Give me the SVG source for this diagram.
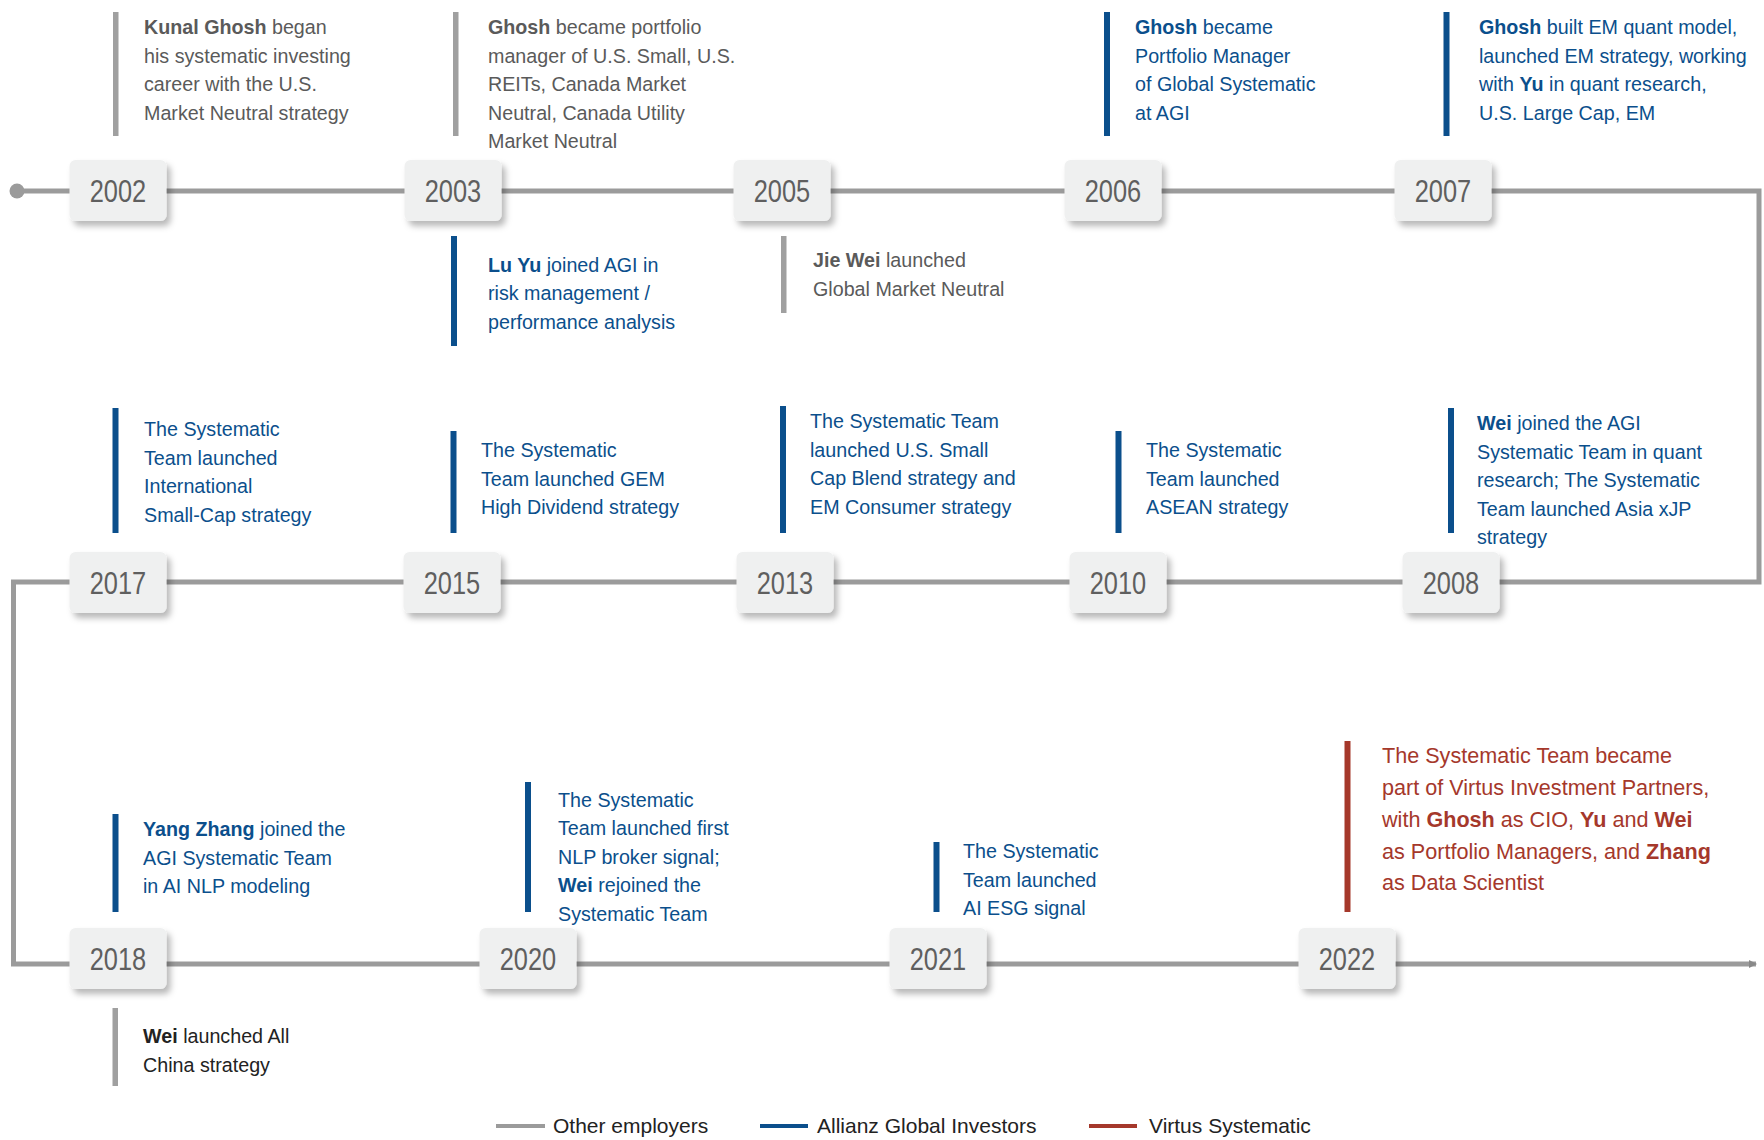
<svg xmlns="http://www.w3.org/2000/svg" width="1764" height="1140" viewBox="0 0 1764 1140">
<style>
.t{font-family:"Liberation Sans",Arial,sans-serif;font-size:19.7px}
.b{font-weight:bold}
.g{fill:#5a5a5a}
.bl{fill:#0b4f8c}
.rd{fill:#a5382b;font-size:21.6px}
.dk{fill:#222}
.yr{font-family:"Liberation Sans",Arial,sans-serif;font-size:31px;fill:#5f5f5f;text-anchor:middle}
.box{fill:#eff0f0;filter:url(#sh)}
.gbar{fill:#a0a0a0}
.bbar{fill:#0b4f8c}
.rbar{fill:#a5382b}
.lg{font-family:"Liberation Sans",Arial,sans-serif;font-size:21px;fill:#222}
</style>
<defs>
<filter id="sh" x="-20%" y="-20%" width="150%" height="160%">
<feDropShadow dx="4" dy="5" stdDeviation="3" flood-color="#000" flood-opacity="0.28"/>
</filter>
<marker id="ar" markerWidth="8" markerHeight="8" refX="7" refY="4" orient="auto" markerUnits="userSpaceOnUse">
<path d="M0,0 L8,4 L0,8 Z" fill="#888"/>
</marker>
</defs>
<rect width="1764" height="1140" fill="#fff"/>

<g id="connectors">
<circle cx="17" cy="191" r="7.5" fill="#9b9b9b"/>
<path d="M17,191 H1759 V582 H13.5 V964 H1756" fill="none" stroke="#9b9b9b" stroke-width="5" marker-end="url(#ar)"/>
</g>

<g id="y2002">
<rect class="box" x="69.5" y="160" width="97" height="61" rx="6"/>
<text class="yr" transform="translate(118 202) scale(0.82 1)">2002</text>
<rect class="gbar" x="113" y="12" width="5.5" height="124"/>
<text class="t g" x="144" y="34"><tspan class="b">Kunal Ghosh</tspan> began</text>
<text class="t g" x="144" y="62.5">his systematic investing</text>
<text class="t g" x="144" y="91">career with the U.S.</text>
<text class="t g" x="144" y="119.5">Market Neutral strategy</text>
</g>

<g id="y2003">
<rect class="box" x="404.5" y="160" width="97" height="61" rx="6"/>
<text class="yr" transform="translate(453 202) scale(0.82 1)">2003</text>
<rect class="gbar" x="453" y="12" width="5.5" height="124"/>
<text class="t g" x="488" y="34"><tspan class="b">Ghosh</tspan> became portfolio</text>
<text class="t g" x="488" y="62.5">manager of U.S. Small, U.S.</text>
<text class="t g" x="488" y="91">REITs, Canada Market</text>
<text class="t g" x="488" y="119.5">Neutral, Canada Utility</text>
<text class="t g" x="488" y="148">Market Neutral</text>
<rect class="bbar" x="451" y="236" width="6" height="110"/>
<text class="t bl" x="488" y="271.5"><tspan class="b">Lu Yu</tspan> joined AGI in</text>
<text class="t bl" x="488" y="300">risk management /</text>
<text class="t bl" x="488" y="328.5">performance analysis</text>
</g>

<g id="y2005">
<rect class="box" x="733.5" y="160" width="97" height="61" rx="6"/>
<text class="yr" transform="translate(782 202) scale(0.82 1)">2005</text>
<rect class="gbar" x="781" y="236" width="5.5" height="77"/>
<text class="t g" x="813" y="267"><tspan class="b">Jie Wei</tspan> launched</text>
<text class="t g" x="813" y="295.5">Global Market Neutral</text>
</g>

<g id="y2006">
<rect class="box" x="1064.5" y="160" width="97" height="61" rx="6"/>
<text class="yr" transform="translate(1113 202) scale(0.82 1)">2006</text>
<rect class="bbar" x="1104" y="12" width="6" height="124"/>
<text class="t bl" x="1135" y="34"><tspan class="b">Ghosh</tspan> became</text>
<text class="t bl" x="1135" y="62.5">Portfolio Manager</text>
<text class="t bl" x="1135" y="91">of Global Systematic</text>
<text class="t bl" x="1135" y="119.5">at AGI</text>
</g>

<g id="y2007">
<rect class="box" x="1394.5" y="160" width="97" height="61" rx="6"/>
<text class="yr" transform="translate(1443 202) scale(0.82 1)">2007</text>
<rect class="bbar" x="1443.5" y="12" width="6" height="124"/>
<text class="t bl" x="1479" y="34"><tspan class="b">Ghosh</tspan> built EM quant model,</text>
<text class="t bl" x="1479" y="62.5">launched EM strategy, working</text>
<text class="t bl" x="1479" y="91">with <tspan class="b">Yu</tspan> in quant research,</text>
<text class="t bl" x="1479" y="119.5">U.S. Large Cap, EM</text>
</g>

<g id="y2008">
<rect class="box" x="1402.5" y="552" width="97" height="61" rx="6"/>
<text class="yr" transform="translate(1451 594) scale(0.82 1)">2008</text>
<rect class="bbar" x="1448" y="408" width="6" height="125"/>
<text class="t bl" x="1477" y="430"><tspan class="b">Wei</tspan> joined the AGI</text>
<text class="t bl" x="1477" y="458.5">Systematic Team in quant</text>
<text class="t bl" x="1477" y="487">research; The Systematic</text>
<text class="t bl" x="1477" y="515.5">Team launched Asia xJP</text>
<text class="t bl" x="1477" y="544">strategy</text>
</g>

<g id="y2010">
<rect class="box" x="1069.5" y="552" width="97" height="61" rx="6"/>
<text class="yr" transform="translate(1118 594) scale(0.82 1)">2010</text>
<rect class="bbar" x="1115.5" y="431" width="6" height="102"/>
<text class="t bl" x="1146" y="457">The Systematic</text>
<text class="t bl" x="1146" y="485.5">Team launched</text>
<text class="t bl" x="1146" y="514">ASEAN strategy</text>
</g>

<g id="y2013">
<rect class="box" x="736.5" y="552" width="97" height="61" rx="6"/>
<text class="yr" transform="translate(785 594) scale(0.82 1)">2013</text>
<rect class="bbar" x="780" y="406" width="6" height="127"/>
<text class="t bl" x="810" y="428">The Systematic Team</text>
<text class="t bl" x="810" y="456.5">launched U.S. Small</text>
<text class="t bl" x="810" y="485">Cap Blend strategy and</text>
<text class="t bl" x="810" y="513.5">EM Consumer strategy</text>
</g>

<g id="y2015">
<rect class="box" x="403.5" y="552" width="97" height="61" rx="6"/>
<text class="yr" transform="translate(452 594) scale(0.82 1)">2015</text>
<rect class="bbar" x="450.5" y="431" width="6" height="102"/>
<text class="t bl" x="481" y="457">The Systematic</text>
<text class="t bl" x="481" y="485.5">Team launched GEM</text>
<text class="t bl" x="481" y="514">High Dividend strategy</text>
</g>

<g id="y2017">
<rect class="box" x="69.5" y="552" width="97" height="61" rx="6"/>
<text class="yr" transform="translate(118 594) scale(0.82 1)">2017</text>
<rect class="bbar" x="112.5" y="408" width="6" height="125"/>
<text class="t bl" x="144" y="436">The Systematic</text>
<text class="t bl" x="144" y="464.5">Team launched</text>
<text class="t bl" x="144" y="493">International</text>
<text class="t bl" x="144" y="521.5">Small-Cap strategy</text>
</g>

<g id="y2018">
<rect class="box" x="69.5" y="928" width="97" height="61" rx="6"/>
<text class="yr" transform="translate(118 970) scale(0.82 1)">2018</text>
<rect class="bbar" x="112.5" y="814" width="6" height="98"/>
<text class="t bl" x="143" y="836"><tspan class="b">Yang Zhang</tspan> joined the</text>
<text class="t bl" x="143" y="864.5">AGI Systematic Team</text>
<text class="t bl" x="143" y="893">in AI NLP modeling</text>
<rect class="gbar" x="112.5" y="1008" width="5.5" height="78"/>
<text class="t dk" x="143" y="1043"><tspan class="b">Wei</tspan> launched All</text>
<text class="t dk" x="143" y="1071.5">China strategy</text>
</g>

<g id="y2020">
<rect class="box" x="479.5" y="928" width="97" height="61" rx="6"/>
<text class="yr" transform="translate(528 970) scale(0.82 1)">2020</text>
<rect class="bbar" x="525" y="782" width="6" height="130"/>
<text class="t bl" x="558" y="806.5">The Systematic</text>
<text class="t bl" x="558" y="835">Team launched first</text>
<text class="t bl" x="558" y="863.5">NLP broker signal;</text>
<text class="t bl" x="558" y="892"><tspan class="b">Wei</tspan> rejoined the</text>
<text class="t bl" x="558" y="920.5">Systematic Team</text>
</g>

<g id="y2021">
<rect class="box" x="889.5" y="928" width="97" height="61" rx="6"/>
<text class="yr" transform="translate(938 970) scale(0.82 1)">2021</text>
<rect class="bbar" x="933.5" y="842" width="6" height="70"/>
<text class="t bl" x="963" y="858">The Systematic</text>
<text class="t bl" x="963" y="886.5">Team launched</text>
<text class="t bl" x="963" y="915">AI ESG signal</text>
</g>

<g id="y2022">
<rect class="box" x="1298.5" y="928" width="97" height="61" rx="6"/>
<text class="yr" transform="translate(1347 970) scale(0.82 1)">2022</text>
<rect class="rbar" x="1344.5" y="741" width="6" height="171"/>
<text class="t rd" x="1382" y="763">The Systematic Team became</text>
<text class="t rd" x="1382" y="795">part of Virtus Investment Partners,</text>
<text class="t rd" x="1382" y="827">with <tspan class="b">Ghosh</tspan> as CIO, <tspan class="b">Yu</tspan> and <tspan class="b">Wei</tspan></text>
<text class="t rd" x="1382" y="858.5">as Portfolio Managers, and <tspan class="b">Zhang</tspan></text>
<text class="t rd" x="1382" y="890">as Data Scientist</text>
</g>

<g id="legend">
<line x1="496" y1="1126" x2="545" y2="1126" stroke="#9b9b9b" stroke-width="4"/>
<text class="lg" x="553" y="1133">Other employers</text>
<line x1="760" y1="1126" x2="808" y2="1126" stroke="#0b4f8c" stroke-width="4"/>
<text class="lg" x="817" y="1133">Allianz Global Investors</text>
<line x1="1089" y1="1126" x2="1137" y2="1126" stroke="#a5382b" stroke-width="4"/>
<text class="lg" x="1149" y="1133">Virtus Systematic</text>
</g>
</svg>
